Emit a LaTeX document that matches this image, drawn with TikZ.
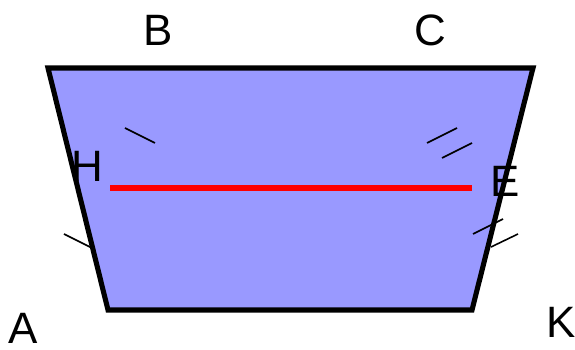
\documentclass[tikz,border=0pt]{standalone}
\usepackage{fontspec}
\setmainfont{Liberation Sans}
\usepackage{xcolor}
\definecolor{trapfill}{RGB}{153,153,255}
\definecolor{midred}{RGB}{255,0,0}

\begin{document}
\begin{tikzpicture}[
    x=0.02cm, y=-0.02cm,
    side/.style={draw=black, line width=2.9pt, line join=miter},
    tick/.style={draw=black, line width=0.9pt},
    midline/.style={draw=midred, line width=3.4pt},
    vlabel/.style={font=\fontsize{25}{28}\selectfont, inner sep=0pt},
]
  \useasboundingbox (0,0) rectangle (575,350);
  % corners of the trapezoid
  \coordinate (pA) at (108,310);
  \coordinate (pB) at (48,68);
  \coordinate (pC) at (533,68);
  \coordinate (pK) at (472,310);
  \coordinate (mH) at (110,188);
  \coordinate (mE) at (472,188);
  \fill[trapfill] (pA) -- (pB) -- (pC) -- (pK) -- cycle;
  \draw[midline] (mH) -- (mE);
  \draw[side] (pA) -- (pB) -- (pC) -- (pK) -- cycle;
  % equal-segment ticks
  \coordinate (t1a) at (125,128); \coordinate (t1b) at (155,143);
  \coordinate (t2a) at (64,234);  \coordinate (t2b) at (92,248);
  \coordinate (t3a) at (427,143); \coordinate (t3b) at (457,128);
  \coordinate (t4a) at (442,158); \coordinate (t4b) at (472,143);
  \coordinate (t5a) at (473,234); \coordinate (t5b) at (503,219);
  \coordinate (t6a) at (491,247); \coordinate (t6b) at (518,234);
  \draw[tick] (t1a) -- (t1b);
  \draw[tick] (t2a) -- (t2b);
  \draw[tick] (t3a) -- (t3b);
  \draw[tick] (t4a) -- (t4b);
  \draw[tick] (t5a) -- (t5b);
  \draw[tick] (t6a) -- (t6b);
  % labels
  \node[vlabel] (lB) at (158,30) {B};
  \node[vlabel] (lC) at (430,30) {C};
  \node[vlabel] (lH) at (87,166) {H};
  \node[vlabel] (lE) at (505,181) {E};
  \node[vlabel] (lA) at (23,328) {A};
  \node[vlabel] (lK) at (561,322) {K};
\end{tikzpicture}
\end{document}
